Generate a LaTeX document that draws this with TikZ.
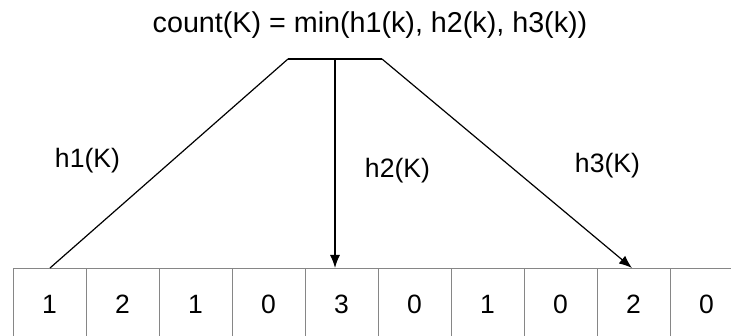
\documentclass[tikz,border=0pt]{standalone}
\usepackage{fontspec}
\setmainfont{Liberation Sans}
\usetikzlibrary{arrows.meta}
\begin{document}
\begin{tikzpicture}[x=1pt,y=-1pt,
  cell/.style={draw=gray!95,line width=1pt,minimum width=73pt,minimum height=90pt,inner sep=0pt,anchor=north west},
  digit/.style={anchor=base,font=\fontsize{26.5}{30}\selectfont},
  lbl/.style={anchor=base,font=\fontsize{26.6}{30}\selectfont},
  link/.style={line width=1.2pt,black},
  arr/.style={link,-{Latex[length=13pt,width=10pt]}},
  bar/.style={line width=2.6pt,black}]
\useasboundingbox (0,0) rectangle (731,336);
\clip (0,0) rectangle (731,336);
\fill[white] (0,0) rectangle (731,336);
% cells
\foreach \i/\v in {0/1,1/2,2/1,3/0,4/3,5/0,6/1,7/0,8/2,9/0}{
  \node[cell] (c\i) at ({13+73*\i},268) {};
  \node[digit] (d\i) at ({49.5+73*\i},314) {\v};
}
% top bar
\coordinate (bl) at (288,59);
\coordinate (bm) at (335,59);
\coordinate (br) at (382,59);
\coordinate (e1) at (50,268);
\coordinate (e2) at (335,268);
\coordinate (e3) at (632,268);
\draw[link] (bl) -- (e1);
\draw[arr] (bm) -- (e2);
\draw[arr] (br) -- (e3);
\draw[bar] (bl) -- (br);
% text
\node[lbl,font=\fontsize{28.7}{32}\selectfont] (title) at (370,33) {count(K) = min(h1(k), h2(k), h3(k))};
\node[lbl] (l1) at (87.5,168) {h1(K)};
\node[lbl] (l2) at (397.5,178) {h2(K)};
\node[lbl] (l3) at (607.5,173) {h3(K)};
\end{tikzpicture}
\end{document}
